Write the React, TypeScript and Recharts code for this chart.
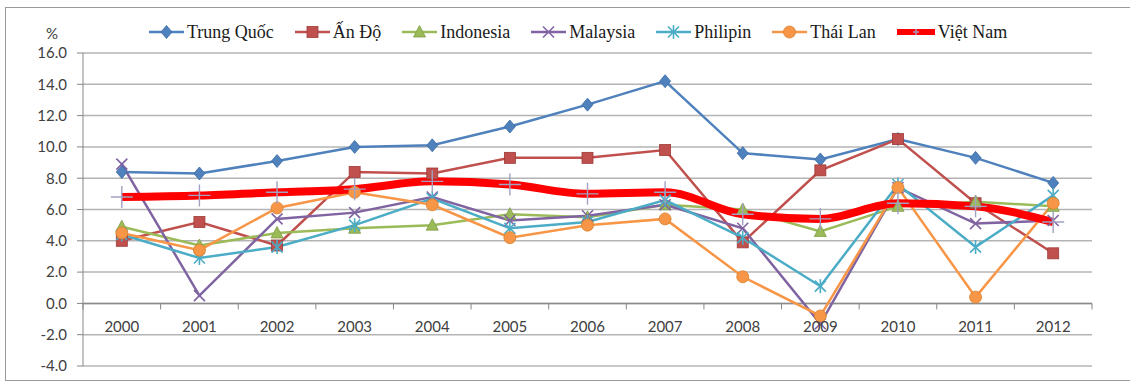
import React from "react";
import { LineChart, Line, XAxis, YAxis, CartesianGrid, ReferenceLine } from "recharts";

const years = ["2000", "2001", "2002", "2003", "2004", "2005", "2006", "2007", "2008", "2009", "2010", "2011", "2012"];
const trungQuoc = [8.4, 8.3, 9.1, 10.0, 10.1, 11.3, 12.7, 14.2, 9.6, 9.2, 10.5, 9.3, 7.7];
const anDo = [4.0, 5.2, 3.7, 8.4, 8.3, 9.3, 9.3, 9.8, 3.9, 8.5, 10.5, 6.4, 3.2];
const indonesia = [4.9, 3.7, 4.5, 4.8, 5.0, 5.7, 5.5, 6.3, 6.0, 4.6, 6.2, 6.5, 6.2];
const malaysia = [8.9, 0.5, 5.4, 5.8, 6.8, 5.3, 5.6, 6.3, 4.8, -1.3, 7.4, 5.1, 5.3];
const philipin = [4.4, 2.9, 3.6, 5.0, 6.7, 4.8, 5.2, 6.6, 4.2, 1.1, 7.6, 3.6, 6.9];
const thaiLan = [4.5, 3.4, 6.1, 7.1, 6.3, 4.2, 5.0, 5.4, 1.7, -0.8, 7.4, 0.4, 6.4];
const vietNam = [6.8, 6.9, 7.1, 7.3, 7.8, 7.6, 7.0, 7.1, 5.7, 5.4, 6.4, 6.2, 5.2];
const yTicks = [-4, -2, 0, 2, 4, 6, 8, 10, 12, 14, 16];
const unitLabel = "%";

const seriesNames = ["Trung Quốc", "Ấn Độ", "Indonesia", "Malaysia", "Philipin", "Thái Lan", "Việt Nam"];
const seriesValues = [trungQuoc, anDo, indonesia, malaysia, philipin, thaiLan, vietNam];
const seriesKeys = ["tq", "ad", "id", "my", "ph", "th", "vn"];
const seriesColors = ["#4F81BD", "#C0504D", "#9BBB59", "#8064A2", "#4BACC6", "#F79646", "#FF0000"];
const seriesMarkers = ["diamond", "square", "triangle", "x", "star", "circle", "plus"];

const data = years.map((y, i) => {
  const row: any = { year: y };
  seriesKeys.forEach((k, j) => (row[k] = seriesValues[j][i]));
  return row;
});

const W = 1130;
const H = 383;
const M = { top: 53, right: 38, bottom: 16, left: 0 };
const Y_W = 83;
const X_H = 1;
const YMIN = -4;
const YMAX = 16;
const plotH = H - M.top - M.bottom - X_H;
const plotW = W - M.left - M.right - Y_W;
const band = plotW / years.length;

function Marker({ type, cx, cy, color, legend }: any) {
  if (cx == null || cy == null) return null;
  switch (type) {
    case "diamond":
      return <path d={`M${cx},${cy - 6.5} L${cx + 5.5},${cy} L${cx},${cy + 6.5} L${cx - 5.5},${cy} Z`} fill={color} stroke="#3a6aa5" strokeWidth={0.8} />;
    case "square":
      return <rect x={cx - 5.5} y={cy - 5.5} width={11} height={11} fill={color} stroke="#9c3a37" strokeWidth={0.8} />;
    case "triangle":
      return <path d={`M${cx},${cy - 6.5} L${cx + 6},${cy + 5} L${cx - 6},${cy + 5} Z`} fill={color} stroke="#7f9c45" strokeWidth={0.8} />;
    case "x":
      return (
        <g stroke={color} strokeWidth={1.6}>
          <line x1={cx - 5.5} y1={cy - 5.5} x2={cx + 5.5} y2={cy + 5.5} />
          <line x1={cx - 5.5} y1={cy + 5.5} x2={cx + 5.5} y2={cy - 5.5} />
        </g>
      );
    case "star":
      return (
        <g stroke={color} strokeWidth={1.6}>
          <line x1={cx - 5.5} y1={cy - 5.5} x2={cx + 5.5} y2={cy + 5.5} />
          <line x1={cx - 5.5} y1={cy + 5.5} x2={cx + 5.5} y2={cy - 5.5} />
          <line x1={cx} y1={cy - 7} x2={cx} y2={cy + 7} />
        </g>
      );
    case "circle":
      return <circle cx={cx} cy={cy} r={6} fill={color} stroke="#d9822f" strokeWidth={0.8} />;
    case "plus": {
      const s = legend ? 3 : 11;
      return (
        <g stroke="#a3a0c0" strokeWidth={1.4}>
          <line x1={cx - s} y1={cy} x2={cx + s} y2={cy} />
          <line x1={cx} y1={cy - s} x2={cx} y2={cy + s} />
        </g>
      );
    }
    default:
      return null;
  }
}

function makeDot(type: string, color: string) {
  return (props: any) => <Marker key={`${type}-${props.index}`} type={type} cx={props.cx} cy={props.cy} color={color} />;
}

function XTick(props: any) {
  const { x, y, payload, index } = props;
  const zeroY = y - (plotH * (0 - YMIN)) / (YMAX - YMIN);
  return (
    <g>
      <line x1={x - band / 2} y1={zeroY} x2={x - band / 2} y2={zeroY + 6} stroke="#868686" strokeWidth={1} />
      {index === years.length - 1 && (
        <line x1={x + band / 2} y1={zeroY} x2={x + band / 2} y2={zeroY + 6} stroke="#868686" strokeWidth={1} />
      )}
      <text x={x} y={zeroY + 23} textAnchor="middle" dominantBaseline="central" fontFamily="Lato" fontSize={15} fill="#404040">
        {payload.value}
      </text>
    </g>
  );
}

function LegendRow() {
  return (
    <div style={{ position: "absolute", left: 149, top: 22, height: 20, display: "flex", alignItems: "center", gap: 21 }}>
      {seriesNames.map((n, i) => {
        const isVN = seriesMarkers[i] === "plus";
        const w = isVN ? 38 : 35;
        return (
          <div key={n} style={{ display: "flex", alignItems: "center" }}>
            <svg width={w} height={16} style={{ display: "block" }}>
              <line x1={0} y1={8} x2={w} y2={8} stroke={seriesColors[i]} strokeWidth={isVN ? 6 : 2.5} />
              <Marker type={seriesMarkers[i]} cx={w / 2} cy={8} color={seriesColors[i]} legend />
            </svg>
            <span style={{ marginLeft: 3, fontFamily: "'Liberation Serif', serif", fontSize: 18, color: "#1a1a1a", lineHeight: "20px", whiteSpace: "nowrap" }}>
              {n}
            </span>
          </div>
        );
      })}
    </div>
  );
}

export default function App() {
  return (
    <div style={{ position: "absolute", left: 0, top: 0, width: W, height: H, overflow: "hidden", background: "#fff" }}>
      <div style={{ position: "absolute", left: 5, top: 7, width: 1140, height: 372, border: "1px solid #9a9a9a" }} />
      <span style={{ position: "absolute", left: 46, top: 25, fontFamily: "Lato", fontSize: 15, lineHeight: "17px", color: "#404040" }}>{unitLabel}</span>
      <LegendRow />
      <div style={{ position: "absolute", left: 0, top: 0 }}>
        <LineChart width={W} height={H} data={data} margin={M}>
          <CartesianGrid vertical={false} stroke="#b4b4b4" strokeWidth={1.5} />
          <XAxis
            dataKey="year"
            height={X_H}
            axisLine={false}
            tickLine={false}
            tickSize={0}
            tickMargin={0}
            padding={{ left: band / 2, right: band / 2 }}
            tick={<XTick />}
            interval={0}
          />
          <YAxis
            width={Y_W}
            domain={[YMIN, YMAX]}
            ticks={yTicks}
            allowDataOverflow
            tickFormatter={(v: number) => v.toFixed(1)}
            axisLine={{ stroke: "#868686" }}
            tickLine={{ stroke: "#868686" }}
            tickSize={6}
            tickMargin={10}
            tick={{ fontFamily: "Lato", fontSize: 15, fill: "#404040" }}
          />
          <ReferenceLine y={0} stroke="#8c8c8c" strokeWidth={1.5} />
          {seriesKeys.map((k, i) => (
            <Line
              key={k}
              dataKey={k}
              name={seriesNames[i]}
              type={seriesMarkers[i] === "plus" ? "monotone" : "linear"}
              stroke={seriesColors[i]}
              strokeWidth={seriesMarkers[i] === "plus" ? 8 : 2.5}
              dot={makeDot(seriesMarkers[i], seriesColors[i])}
              activeDot={false}
              isAnimationActive={false}
            />
          ))}
        </LineChart>
      </div>
    </div>
  );
}
